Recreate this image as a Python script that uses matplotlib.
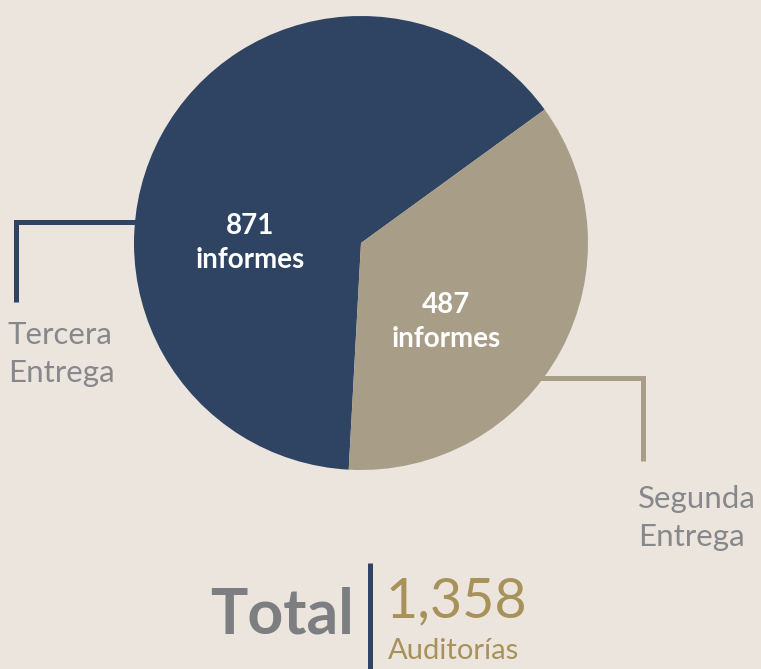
import matplotlib
matplotlib.use("Agg")
from matplotlib import pyplot as plt

# data
entregas = ["Tercera\nEntrega", "Segunda\nEntrega"]
informes = [871, 487]
total = sum(informes)
colors = ["#2f4363", "#a89e87"]

BG = "#ece5de"
GRAY = "#87888b"
GOLD = "#a8925a"
FONT = "Lato"

W, H = 761, 669
fig = plt.figure(figsize=(W / 100, H / 100), dpi=100, facecolor=BG)
ax = fig.add_axes([0, 0, 1, 1])
ax.set_facecolor(BG)

# pie, in pixel coordinates (y up)
cx, cy, r = 361, H - 243, 227
wedges, _ = ax.pie(informes, colors=colors, startangle=36, counterclock=True,
                   center=(cx, cy), radius=r, frame=True,
                   wedgeprops=dict(linewidth=0))

ax.set_xlim(0, W)
ax.set_ylim(0, H)
ax.set_aspect("equal")
ax.axis("off")

# labels inside the slices
ax.text(250, H - 243, f"{informes[0]}\ninformes", color="white", fontsize=20,
        fontweight="bold", family=FONT, ha="center", va="center",
        linespacing=1.4)
ax.text(446, H - 322, f"{informes[1]}\ninformes", color="white", fontsize=20,
        fontweight="bold", family=FONT, ha="center", va="center",
        linespacing=1.4)

# leader lines
ax.plot([136, 16, 16], [H - 222, H - 222, H - 302], color=colors[0], lw=3.6,
        solid_capstyle="butt", solid_joinstyle="miter")
ax.plot([540, 643, 643], [H - 378, H - 378, H - 461], color=colors[1], lw=3.6,
        solid_capstyle="butt", solid_joinstyle="miter")

ax.text(8, H - 354, entregas[0], color=GRAY, fontsize=22.5, family=FONT,
        ha="left", va="center", linespacing=1.45)
ax.text(638, H - 518, entregas[1], color=GRAY, fontsize=22.5, family=FONT,
        ha="left", va="center", linespacing=1.45)

# total block
ax.text(354, H - 633, "Total", color="#7d7e82", fontsize=45, family=FONT,
        fontweight="bold", ha="right", va="baseline")
ax.plot([370, 370], [H - 563, 0], color=colors[0], lw=3.6, solid_capstyle="butt")
ax.text(386, H - 617, f"{total:,}", color=GOLD, fontsize=40, family=FONT,
        ha="left", va="baseline")
ax.text(388, H - 659, "Auditorías", color=GOLD, fontsize=21, family=FONT,
        ha="left", va="baseline")

fig.savefig("out.png", dpi=100, facecolor=BG)
